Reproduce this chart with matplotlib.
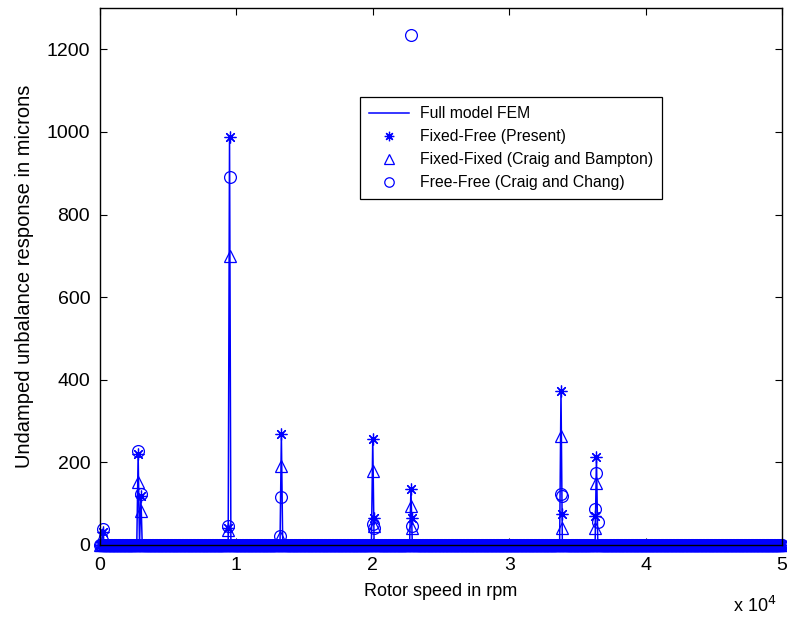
import numpy as np
import matplotlib
matplotlib.use("Agg")
import matplotlib.pyplot as plt

plt.rcParams['font.family'] = ['Liberation Sans', 'DejaVu Sans']

# ---- data ----
rpm_step = 100
rpm_max = 50000

fem_rpm = [200, 2800, 3000, 9500, 13300, 20000, 22800, 33800, 36400]
fem_amp = [38, 220, 120, 988, 265, 256, 135, 373, 213]

ff_rpm = [200, 2800, 3000, 9400, 9500, 13300, 20000, 20100, 22800, 22900, 33800, 33900, 36300, 36400]
ff_amp = [30, 220, 118, 40, 988, 268, 256, 66, 135, 66, 373, 75, 70, 213]

fx_rpm = [200, 2800, 3000, 9400, 9500, 13200, 13300, 20000, 20100, 22800, 22900, 33800, 33900, 36300, 36400]
fx_amp = [25, 152, 82, 35, 700, 20, 191, 179, 45, 94, 40, 264, 40, 40, 150]

fr_rpm = [200, 2800, 3000, 9400, 9500, 13200, 13300, 20000, 20100, 22800, 22900, 33800, 33900, 36300, 36400, 36500]
fr_amp = [38, 227, 123, 45, 890, 22, 116, 50, 40, 1235, 45, 123, 118, 87, 174, 55]

xticks = [0, 10000, 20000, 30000, 40000, 50000]
xticklabels = ['0', '1', '2', '3', '4', '5']
yticks = [0, 200, 400, 600, 800, 1000, 1200]

labels = ['Full model FEM', 'Fixed-Free (Present)',
          'Fixed-Fixed (Craig and Bampton)', 'Free-Free (Craig and Chang)']

# ---- build series on the speed grid ----
rpm = np.arange(0, rpm_max + rpm_step, rpm_step)

def series(r, a):
    y = np.zeros_like(rpm, dtype=float)
    for rr, aa in zip(r, a):
        y[np.argmin(np.abs(rpm - rr))] = aa
    return y

y_fem = series(fem_rpm, fem_amp)
y_ff = series(ff_rpm, ff_amp)
y_fx = series(fx_rpm, fx_amp)
y_fr = series(fr_rpm, fr_amp)

blue = '#0000ff'
fig = plt.figure(figsize=(7.87, 6.22), dpi=100)
ax = fig.add_axes([0.127, 0.124, 0.8666, 0.863])

ms = 8.5
ax.plot(rpm, y_fem, '-', color=blue, lw=1.1, label=labels[0])
ax.plot(rpm, y_ff, ls='none', marker=(8, 2, 0), color=blue, ms=ms, mew=0.9,
        label=labels[1], clip_on=False)
ax.plot(rpm, y_fx, ls='none', marker='^', color=blue, ms=ms, mfc='none', mew=0.9,
        label=labels[2], clip_on=False)
ax.plot(rpm, y_fr, ls='none', marker='o', color=blue, ms=ms, mfc='none', mew=0.9,
        label=labels[3], clip_on=False)

ax.set_xlim(0, rpm_max)
ax.set_ylim(0, 1300)
ax.set_xticks(xticks)
ax.set_xticklabels(xticklabels)
ax.set_yticks(yticks)
ax.tick_params(direction='in', top=True, right=True, labelsize=14, length=5, pad=7)
ax.tick_params(axis='x', pad=9)
for s in ax.spines.values():
    s.set_linewidth(1.0)

ax.set_xlabel('Rotor speed in rpm', fontsize=13, labelpad=6)
ax.set_ylabel('Undamped unbalance response in microns', fontsize=14.5, labelpad=9)
fig.text(0.931, 0.016, r'x 10$^4$', fontsize=13, va='baseline')

leg = ax.legend(loc='upper left', bbox_to_anchor=((360 - 100) / 682, (545 - 97) / 537),
                numpoints=1, fancybox=False, edgecolor='black', fontsize=11.3,
                handlelength=2.5, handletextpad=0.7, borderpad=0.6,
                borderaxespad=0, labelspacing=0.5, framealpha=1, markerscale=0.8)
leg.get_frame().set_linewidth(0.9)

fig.savefig('out.png', dpi=100)
